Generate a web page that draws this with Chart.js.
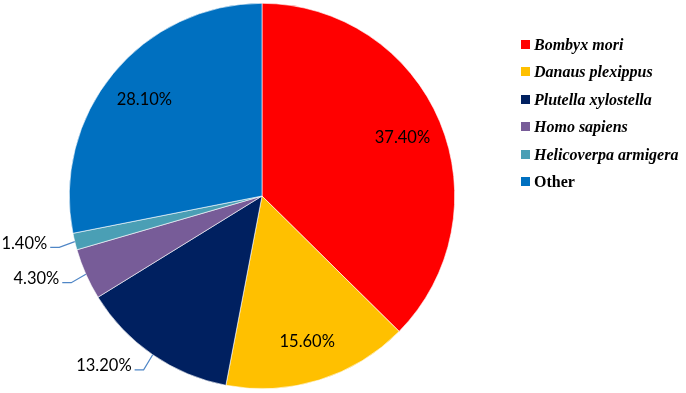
<!DOCTYPE html>
<html>
<head>
<meta charset="utf-8">
<script src="https://cdn.jsdelivr.net/npm/chart.js@4.4.0/dist/chart.umd.min.js"></script>
<style>
  html, body { margin: 0; padding: 0; background: #fff; }
  #wrap { position: relative; width: 686px; height: 393px; }
  #legend { position: absolute; left: 521px; top: 35px; font-family: "Liberation Serif", "DejaVu Serif", serif; font-size: 16px; font-weight: bold; color: #000; }
  #legend div { height: 27.4px; line-height: 20px; white-space: nowrap; }
  #legend span.box { display: inline-block; width: 9px; height: 9px; margin-right: 4px; vertical-align: 1px; }
</style>
</head>
<body>
<div id="wrap">
  <canvas id="pie" width="686" height="393"></canvas>
  <div id="legend"></div>
</div>
<script>
  // chart data
  const species = ["Bombyx mori", "Danaus plexippus", "Plutella xylostella", "Homo sapiens", "Helicoverpa armigera", "Other"];
  const shares = [37.4, 15.6, 13.2, 4.3, 1.4, 28.1];
  const sliceColors = ["#ff0000", "#ffc000", "#002060", "#775c98", "#4a9fb5", "#0070c0"];
  const italicNames = [true, true, true, true, true, false];

  // percentage labels: inside for big slices, outside with a leader for small ones
  const labelPlugin = {
    id: "pctLabels",
    afterDatasetsDraw(chart) {
      const ctx = chart.ctx;
      const arcs = chart.getDatasetMeta(0).data;
      ctx.save();
      ctx.font = "16.5px Lato";
      ctx.fillStyle = "#000";
      ctx.textBaseline = "middle";
      arcs.forEach((arc, i) => {
        const text = shares[i].toFixed(2) + "%";
        const mid = (arc.startAngle + arc.endAngle) / 2;
        const r = arc.outerRadius;
        if (shares[i] >= 15) {
          ctx.textAlign = "center";
          ctx.fillText(text, arc.x + Math.cos(mid) * r * 0.79, arc.y + Math.sin(mid) * r * 0.79);
        } else {
          const ex = arc.x + Math.cos(mid) * r;
          const ey = arc.y + Math.sin(mid) * r;
          const bx = arc.x + Math.cos(mid) * (r + 16);
          const by = arc.y + Math.sin(mid) * (r + 16) + 2;
          ctx.strokeStyle = "#4f86c6";
          ctx.lineWidth = 1.2;
          ctx.beginPath();
          ctx.moveTo(ex, ey);
          ctx.lineTo(bx, by);
          ctx.lineTo(bx - 9, by);
          ctx.stroke();
          ctx.textAlign = "right";
          ctx.fillText(text, bx - 12, by - 4);
        }
      });
      ctx.restore();
    }
  };

  new Chart(document.getElementById("pie"), {
    type: "pie",
    data: {
      labels: species,
      datasets: [{
        data: shares,
        backgroundColor: sliceColors,
        borderColor: "#ffffff",
        borderWidth: 0.6
      }]
    },
    options: {
      responsive: false,
      animation: false,
      layout: { padding: { left: 69, right: 231, top: 3, bottom: 4 } },
      plugins: {
        legend: { display: false },
        tooltip: { enabled: false }
      }
    },
    plugins: [labelPlugin]
  });

  // legend built from the same arrays
  const legend = document.getElementById("legend");
  species.forEach((name, i) => {
    const row = document.createElement("div");
    const box = document.createElement("span");
    box.className = "box";
    box.style.background = sliceColors[i];
    const txt = document.createElement("span");
    txt.textContent = name;
    if (italicNames[i]) txt.style.fontStyle = "italic";
    row.appendChild(box);
    row.appendChild(txt);
    legend.appendChild(row);
  });
</script>
</body>
</html>
